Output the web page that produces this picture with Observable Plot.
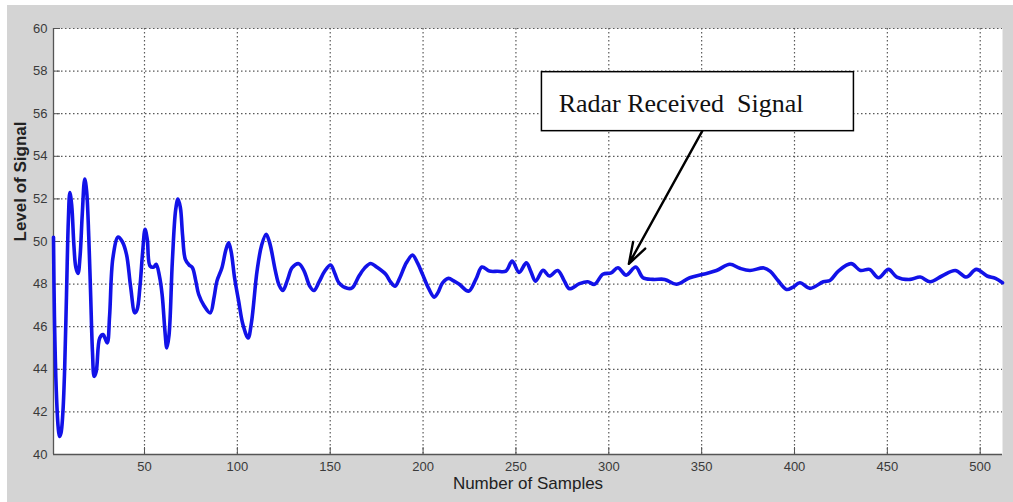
<!DOCTYPE html>
<html>
<head>
<meta charset="utf-8">
<script src="https://cdn.jsdelivr.net/npm/d3@7"></script>
<script src="https://cdn.jsdelivr.net/npm/@observablehq/plot@0.6"></script>
<style>
  html, body { margin: 0; padding: 0; background: #ffffff; }
  #chart svg { display: block; }
</style>
</head>
<body>
<div id="chart"></div>
<script>
// ---- data ----
const sampleIndex = [
  1, 1.5, 2.5, 3.5, 4.2, 5, 6, 7, 8, 9,
  9.8, 10.8, 12, 13, 14.2, 15.3, 16.5, 17.8, 18.8, 20,
  21, 22, 22.9, 24, 25.9, 27.7, 29.9, 31.2, 33, 35.8,
  38, 40.3, 42.5, 44.8, 46, 47.5, 49, 50.3, 51.5, 53,
  55, 56.3, 58, 59.5, 61, 62, 63.2, 65, 66.8, 68,
  69.3, 70.5, 72, 74, 75.8, 77.5, 79.2, 82, 85.4, 87.5,
  89, 91.7, 93.8, 95.3, 96.7, 98.5, 100.7, 103, 105.8, 107.6,
  110.6, 113, 115.5, 117.5, 120.5, 122.5, 124.5, 127, 129.5, 133.1,
  136, 139, 141.2, 144, 147, 150.2, 152.5, 154.7, 159.2, 161.9,
  165.5, 168.5, 171.8, 175, 179.9, 182.5, 184.9, 187.5, 191, 194.3,
  197, 199.7, 203, 206, 208, 210.5, 213.7, 216.5, 219.5, 224.5,
  228.4, 231.7, 235.7, 240, 244.6, 248, 251.7, 255.6, 258, 260.6,
  264.6, 268, 272.5, 276.1, 278.8, 284.2, 288.7, 292.3, 296.8, 301.3,
  304.9, 309.4, 314.5, 318.4, 323.8, 330.1, 336.4, 343.6, 350.8, 358,
  365.2, 370.6, 376, 383.5, 387, 391, 395.7, 399, 402.9, 408.4,
  415.5, 419.1, 423.6, 430.5, 435.5, 440.4, 445.2, 450.6, 455.1, 462.3,
  467.7, 473.1, 479.4, 486.6, 492.5, 497.9, 503.7, 508.2, 512
];
const signalLevel = [
  50.2, 46.5, 43.0, 41.3, 40.85, 41.0, 41.9, 44.0, 47.5, 51.0,
  52.3, 51.7, 49.8, 48.8, 48.5, 49.3, 51.3, 52.93, 52.4, 50.2,
  47.5, 44.8, 43.67, 43.9, 45.47, 45.63, 45.24, 46.5, 49.24, 50.21,
  50.0, 49.4, 47.9, 46.65, 46.8, 47.83, 49.5, 50.57, 50.1, 48.85,
  48.8, 48.93, 48.4, 47.5, 45.8, 45.0, 45.6, 49.08, 51.5, 51.99,
  51.6, 50.3, 49.16, 48.9, 48.77, 48.2, 47.51, 47.0, 46.65, 47.4,
  48.14, 48.77, 49.6, 49.94, 49.5, 48.3, 47.2, 46.1, 45.47, 46.2,
  48.61, 49.8, 50.34, 49.9, 48.61, 47.95, 47.7, 48.2, 48.77, 48.96,
  48.6, 47.9, 47.7, 48.1, 48.6, 48.9, 48.5, 48.06, 47.8, 47.83,
  48.38, 48.75, 48.97, 48.8, 48.46, 48.1, 47.9, 48.3, 49.0, 49.36,
  49.0, 48.46, 47.8, 47.39, 47.6, 48.06, 48.27, 48.15, 47.99, 47.67,
  48.22, 48.8, 48.61, 48.6, 48.61, 49.08, 48.55, 49.0, 48.6, 48.14,
  48.65, 48.38, 48.64, 48.14, 47.78, 48.02, 48.11, 47.99, 48.46, 48.53,
  48.77, 48.42, 48.8, 48.3, 48.22, 48.22, 47.99, 48.3, 48.46, 48.64,
  48.93, 48.74, 48.64, 48.76, 48.6, 48.18, 47.75, 47.85, 48.06, 47.8,
  48.11, 48.17, 48.61, 48.96, 48.64, 48.69, 48.3, 48.69, 48.33, 48.22,
  48.33, 48.11, 48.38, 48.64, 48.33, 48.69, 48.38, 48.27, 48.06
];
const xDomain = [1, 512];
const yDomain = [40, 60];
const xTicks = [50, 100, 150, 200, 250, 300, 350, 400, 450, 500];
const yTicks = [40, 42, 44, 46, 48, 50, 52, 54, 56, 58, 60];
const xLabel = "Number of Samples";
const yLabel = "Level of Signal";

// callout (annotation) placement in data units
const calloutText = "Radar Received  Signal";
const calloutBoxX = [264, 432];
const calloutBoxY = [55.18, 57.95];
const calloutTextAt = [273, 56.45];
const arrowFrom = [350.3, 55.18];
const arrowTo = [310.8, 48.95];

// ---- build ----
const series = sampleIndex.map((x, i) => ({x, y: signalLevel[i]}));
const W = 1013, H = 502;
const mL = 53, mR = 11, mT = 28, mB = 48;
const innerW = W - mL - mR, innerH = H - mT - mB;

const chart = Plot.plot({
  width: W,
  height: H,
  marginLeft: mL,
  marginRight: mR,
  marginTop: mT,
  marginBottom: mB,
  style: {
    background: "#d4d4d4",
    boxShadow: "inset 7px 5px 0 0 #ffffff",
    fontFamily: "'Liberation Sans Narrow', 'Arial Narrow', 'Liberation Sans', Arial, sans-serif",
    fontSize: "13px",
    overflow: "visible"
  },
  x: {domain: xDomain, axis: null},
  y: {domain: yDomain, axis: null},
  marks: [
    Plot.frame({fill: "white", stroke: null}),
    Plot.gridX(xTicks, {stroke: "#5a5a5a", strokeOpacity: 1, strokeWidth: 1.2, strokeDasharray: "1.5,2.5"}),
    Plot.gridY(yTicks, {stroke: "#5a5a5a", strokeOpacity: 1, strokeWidth: 1.2, strokeDasharray: "1.5,2.5"}),
    // inward tick marks (MATLAB style)
    Plot.ruleX(xTicks, {x: d => d, insetTop: innerH - 7, stroke: "#555", strokeWidth: 1}),
    Plot.ruleY(yTicks, {y: d => d, insetRight: innerW - 7, stroke: "#555", strokeWidth: 1}),
    // axis lines
    Plot.ruleX([xDomain[0]], {stroke: "#555", strokeWidth: 1.3}),
    Plot.ruleY([yDomain[0]], {stroke: "#555", strokeWidth: 1.3}),
    Plot.axisX(xTicks, {tickSize: 0, tickPadding: 7, label: null, fill: "#3a3a3a"}),
    Plot.axisY(yTicks, {tickSize: 0, tickPadding: 6, label: null, fill: "#3a3a3a"}),
    // signal
    Plot.line(series, {x: "x", y: "y", stroke: "#1212e8", strokeWidth: 3.6, curve: "catmull-rom", strokeLinejoin: "round"}),
    // callout
    Plot.rect([0], {x1: calloutBoxX[0], x2: calloutBoxX[1], y1: calloutBoxY[0], y2: calloutBoxY[1], fill: "white", stroke: "black", strokeWidth: 1.5}),
    Plot.text([calloutText], {x: calloutTextAt[0], y: calloutTextAt[1], text: d => d, textAnchor: "start", fontFamily: "'Liberation Serif', 'Times New Roman', serif", fontSize: 26, fill: "#111"}),
    Plot.arrow([0], {x1: arrowFrom[0], y1: arrowFrom[1], x2: arrowTo[0], y2: arrowTo[1], stroke: "black", strokeWidth: 2.4, headLength: 14, headAngle: 36}),
    // axis titles
    Plot.text([xLabel], {frameAnchor: "bottom", dy: 34, text: d => d, fontFamily: "'Liberation Sans', Arial, sans-serif", fontSize: 17, fill: "#222"}),
    Plot.text([yLabel], {frameAnchor: "left", dx: -33, rotate: -90, text: d => d, fontFamily: "'Liberation Sans', Arial, sans-serif", fontSize: 17, fontWeight: "bold", fill: "#222"})
  ]
});
document.getElementById("chart").appendChild(chart);
</script>
</body>
</html>
